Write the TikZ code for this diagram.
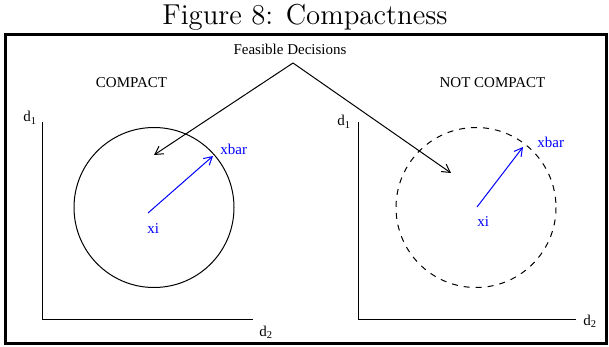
\documentclass[tikz,border=0pt]{standalone}
\usepackage{fontspec}
\newfontfamily\timesfont{Liberation Serif}
\usetikzlibrary{arrows.meta}

\begin{document}
\begin{tikzpicture}[x=0.5pt, y=-0.5pt, >={Straight Barb[length=4pt,width=4.5pt]},
  lbl/.style={font=\timesfont\fontsize{7.5}{9}\selectfont, inner sep=0pt, anchor=base west},
  figline/.style={line width=0.5pt}]
  \useasboundingbox (0,0) rectangle (609,347);

  \coordinate (apex) at (293, 63);
  \coordinate (inL) at (154, 155);
  \coordinate (inR) at (451, 173);
  \coordinate (cL) at (154, 207.5);
  \coordinate (cR) at (476, 207.5);
  \coordinate (xiL) at (148, 213);
  \coordinate (xbL) at (213, 156);
  \coordinate (xiR) at (477, 207);
  \coordinate (xbR) at (523, 147);
  \coordinate (oL) at (42, 319);
  \coordinate (oR) at (358, 319);

  % frame and title
  \draw[line width=1.5pt] (5, 35) rectangle (606, 343);
  \node[font=\Large, inner sep=0pt, anchor=base] (title) at (305, 25) {Figure 8: Compactness};

  % axes
  \draw[figline] (42, 122) -- (oL) -- (253, 319);
  \draw[figline] (358, 122) -- (oR) -- (576, 319);

  % feasible sets
  \draw[figline] (cL) circle (80);
  \draw[figline, dash pattern=on 3pt off 3pt] (cR) circle (80);

  \draw[figline, ->] (apex) -- (inL);
  \draw[figline, ->] (apex) -- (inR);
  \draw[figline, blue, ->] (xiL) -- (xbL);
  \draw[figline, blue, ->] (xiR) -- (xbR);

  \node[lbl, anchor=base] (feas) at (290, 55) {Feasible Decisions};
  \node[lbl, anchor=base] (compact) at (131.5, 88) {COMPACT};
  \node[lbl, anchor=base] (notcompact) at (492.5, 88) {NOT COMPACT};

  \node[lbl] (d1L) at (23, 122) {d\textsubscript{1}};
  \node[lbl] (d2L) at (259, 336) {d\textsubscript{2}};
  \node[lbl] (d1R) at (337, 126) {d\textsubscript{1}};
  \node[lbl] (d2R) at (583, 325) {d\textsubscript{2}};

  \node[lbl, blue] (xitL) at (147, 233) {xi};
  \node[lbl, blue] (xbartL) at (220, 155) {xbar};
  \node[lbl, blue] (xitR) at (477, 227) {xi};
  \node[lbl, blue] (xbartR) at (537, 148) {xbar};
\end{tikzpicture}
\end{document}
